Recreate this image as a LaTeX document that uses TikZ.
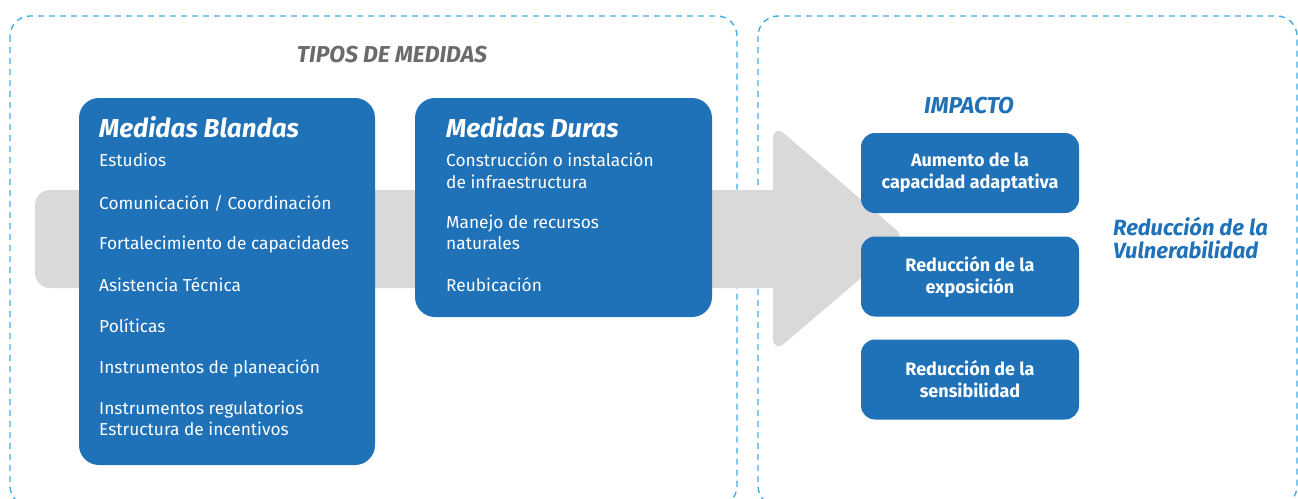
\documentclass[tikz,border=0pt]{standalone}
\usepackage{fontspec}
\setmainfont{Fira Sans}
\definecolor{medblue}{HTML}{1F71B8}
\definecolor{dashblue}{HTML}{41ACE3}
\definecolor{arrowgray}{HTML}{D9D9D9}
\definecolor{titlegray}{HTML}{6B6B6B}
\tikzset{
  frame/.style={draw=dashblue, line width=1.4pt, dash pattern=on 6pt off 5pt, rounded corners=20pt},
  medbox/.style={fill=medblue, rounded corners=20pt, inner sep=0pt},
  boxtitle/.style={anchor=base west, text=white, inner sep=0pt, font=\fontsize{26}{30}\selectfont\bfseries\itshape},
  item/.style={anchor=base west, text=white, inner sep=0pt, font=\fontsize{17.3}{20}\selectfont},
  impbox/.style={fill=medblue, rounded corners=14pt, minimum width=218pt, minimum height=80pt, inner sep=0pt, text=white, align=center, font=\fontsize{18}{22}\selectfont\bfseries},
  heading/.style={font=\fontsize{23}{26}\selectfont\bfseries\itshape},
}
\begin{document}
\begin{tikzpicture}[x=1pt, y=-1pt]
\useasboundingbox (0,0) rectangle (1298,498);
% frames
\draw[frame] (10,16) rectangle (737,506);
\draw[frame] (758,16) rectangle (1297,506);
% gray arrow
\fill[arrowgray, rounded corners=15pt] (35,190) rectangle (800,288);
\fill[arrowgray, rounded corners=15pt] (773,124) -- (907,239) -- (773,353) -- cycle;
% headings
\node[heading, text=titlegray] (tipos) at (392,55) {TIPOS DE MEDIDAS};
\node[heading, text=medblue] (impacto) at (969,106) {IMPACTO};
% medidas blandas
\node[medbox, minimum width=296pt, minimum height=367pt] (blandas) at (227,281.5) {};
\node[boxtitle] (bltitle) at (99,137) {Medidas Blandas};
\node[item] (bl1) at (99,166) {Estudios};
\node[item] (bl2) at (99,209) {Comunicación / Coordinación};
\node[item] (bl3) at (99,249) {Fortalecimiento de capacidades};
\node[item] (bl4) at (99,291) {Asistencia Técnica};
\node[item] (bl5) at (99,332) {Políticas};
\node[item] (bl6) at (99,373) {Instrumentos de planeación};
\node[item] (bl7) at (99,414) {Instrumentos regulatorios};
\node[item] (bl8) at (99,435) {Estructura de incentivos};
% medidas duras
\node[medbox, minimum width=297pt, minimum height=219pt] (duras) at (563.5,207.5) {};
\node[boxtitle] (dutitle) at (446,137) {Medidas Duras};
\node[item] (du1) at (446,166) {Construcción o instalación};
\node[item] (du2) at (446,188) {de infraestructura};
\node[item] (du3) at (446,228) {Manejo de recursos};
\node[item] (du4) at (446,249) {naturales};
\node[item] (du5) at (446,291) {Reubicación};
% impacto
\node[impbox] (imp1) at (970,173) {Aumento de la\\capacidad adaptativa};
\node[impbox] (imp2) at (970,276.5) {Reducción de la\\exposición};
\node[impbox] (imp3) at (970,379.5) {Reducción de la\\sensibilidad};
\node[anchor=west, inner sep=0pt, align=left, text=medblue, font=\fontsize{22}{23}\selectfont\bfseries\itshape] (vuln) at (1113,238) {Reducción de la\\Vulnerabilidad};
\end{tikzpicture}
\end{document}
